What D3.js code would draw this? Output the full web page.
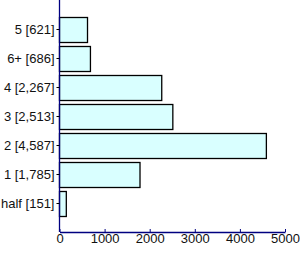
<!DOCTYPE html>
<html>
<head>
<meta charset="utf-8">
<script src="https://cdn.jsdelivr.net/npm/d3@7"></script>
<style>
  body { margin: 0; background: #fff; }
  svg { display: block; }
</style>
</head>
<body>
<div id="chart"></div>
<script>
const labels = ["5 [621]", "6+ [686]", "4 [2,267]", "3 [2,513]", "2 [4,587]", "1 [1,785]", "half [151]"];
const values = [621, 686, 2267, 2513, 4587, 1785, 151];
const xTicks = [0, 1000, 2000, 3000, 4000, 5000];

const W = 300, H = 254;
const margin = { top: 0, right: 15, bottom: 22, left: 59.5 };
const width = W - margin.left - margin.right;
const height = H - margin.top - margin.bottom;

const svg = d3.select("#chart").append("svg")
  .attr("width", W).attr("height", H)
  .append("g")
  .attr("transform", `translate(${margin.left},${margin.top})`);

const x = d3.scaleLinear().domain([0, 5000]).range([0, width]);
const y = d3.scalePoint().domain(labels).range([0, height]).padding(1);
const barH = 25;

// bars
svg.selectAll("rect.bar")
  .data(values)
  .enter().append("rect")
  .attr("class", "bar")
  .attr("x", 0)
  .attr("y", (d, i) => Math.round(y(labels[i]) - barH / 2) + 0.5)
  .attr("width", d => x(d))
  .attr("height", barH)
  .style("fill", "#d9ffff")
  .style("stroke", "#000")
  .style("stroke-width", 1.3);

// y axis
const yAxis = svg.append("g")
  .call(d3.axisLeft(y).tickSize(3).tickPadding(2).tickSizeOuter(0));
yAxis.select(".domain").attr("d", `M0,0V${height}`).style("stroke", "#000080").style("stroke-width", 1.3);
yAxis.selectAll(".tick line").style("stroke", "#000");
yAxis.selectAll(".tick text")
  .style("font-family", "Liberation Sans, Arial, sans-serif")
  .style("font-size", "13px")
  .style("fill", "#111");

// x axis
const xAxis = svg.append("g")
  .attr("transform", `translate(0,${height})`)
  .call(d3.axisBottom(x).tickValues(xTicks).tickFormat(d3.format("d")).tickSize(-3).tickPadding(4).tickSizeOuter(0));
xAxis.select(".domain").style("stroke", "#000080").style("stroke-width", 1.3);
xAxis.selectAll(".tick line").style("stroke", "#000080");
xAxis.selectAll(".tick text")
  .attr("y", 2)
  .style("font-family", "Liberation Sans, Arial, sans-serif")
  .style("font-size", "13px")
  .style("fill", "#111");
</script>
</body>
</html>
